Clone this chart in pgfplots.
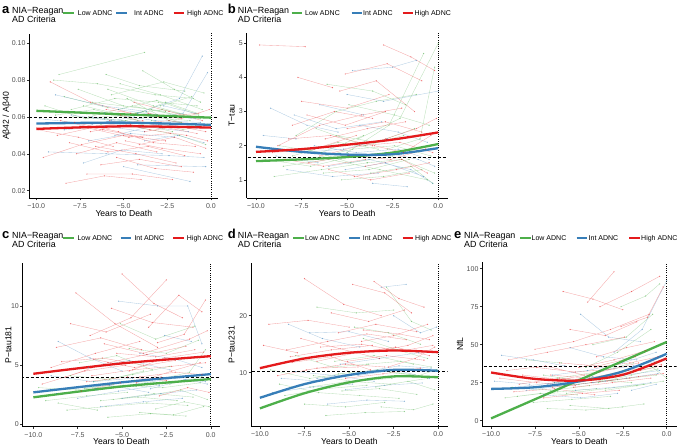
\documentclass[border=0pt]{standalone}
\usepackage{fontspec}
\setmainfont{Liberation Sans}
\usepackage{pgfplots}
\pgfplotsset{compat=1.18}
\definecolor{cgreen}{HTML}{4DAF4A}
\definecolor{cblue}{HTML}{377EB8}
\definecolor{cred}{HTML}{E41A1C}
\definecolor{tickgray}{HTML}{4D4D4D}
\pgfplotsset{
  panel/.style={
    scale only axis, anchor=south west,
    axis x line*=bottom, axis y line*=left,
    axis line style={black, line width=0.55pt, -},
    tick align=outside, major tick length=2.5pt,
    tick style={black!80, line width=0.5pt},
    xtick={-10,-7.5,-5,-2.5,0},
    xticklabels={−10.0,−7.5,−5.0,−2.5,0.0},
    ticklabel style={font=\fontsize{7}{8}\selectfont, text=tickgray},
    yticklabel style={inner sep=1.2pt},
    /pgf/number format/assume math mode=true,
    xlabel={Years to Death},
    label style={font=\fontsize{8.6}{10}\selectfont},
    xlabel style={at={(axis description cs:0.5,0)}, anchor=center, yshift=-15pt},
    unbounded coords=jump,
  },
  traj/.style={line width=0.35pt, opacity=0.38, mark=*, mark size=0.45pt},
  fit/.style={line width=2.3pt, smooth, no marks},
  thr/.style={black, line width=0.7pt, dash pattern=on 3pt off 2pt, no marks},
  zero/.style={black, line width=0.7pt, dash pattern=on 0.7pt off 1.5pt, no marks},
}
\newcommand\legblock[9]{%
  \node[anchor=base west, inner sep=0, font=\fontsize{13}{13}\bfseries] at (#2pt,{(433-#1)*1pt}) {#3};
  \node[anchor=base west, inner sep=0, font=\fontsize{8.9}{9.4}\selectfont] at ({(#2+10)*1pt},{(433.7-#1)*1pt}) {NIA−Reagan};
  \node[anchor=base west, inner sep=0, font=\fontsize{8.9}{9.4}\selectfont] at ({(#2+10)*1pt},{(424.3-#1)*1pt}) {AD Criteria};
  \draw[cgreen, line width=1.8pt] (#4pt,{(434-#1)*1pt}) -- ++(10.7pt,0pt);
  \draw[cblue, line width=1.8pt] (#6pt,{(434-#1)*1pt}) -- ++(10.7pt,0pt);
  \draw[cred, line width=1.8pt] (#8pt,{(434-#1)*1pt}) -- ++(10.7pt,0pt);
  \node[anchor=base west, inner sep=0, font=\fontsize{7}{8}\selectfont] at (#5pt,{(431.5-#1)*1pt}) {Low ADNC};
  \node[anchor=base west, inner sep=0, font=\fontsize{7}{8}\selectfont] at (#7pt,{(431.5-#1)*1pt}) {Int ADNC};
  \node[anchor=base west, inner sep=0, font=\fontsize{7}{8}\selectfont] at (#9pt,{(431.5-#1)*1pt}) {High ADNC};
}
\begin{document}
\begin{tikzpicture}
\useasboundingbox (0pt,0pt) rectangle (677pt,447pt);

% ---------------- panel a ----------------
\begin{axis}[panel, at={(29.3pt,249pt)}, width=189pt, height=164pt,
  xmin=-10.4, xmax=0.42, ymin=0.016, ymax=0.105,
  ytick={0.02,0.04,0.06,0.08,0.10}, yticklabels={0.02,0.04,0.06,0.08,0.10},
  ylabel={Aβ42 / Aβ40},
  ylabel style={at={(axis description cs:0,0.5)}, anchor=center, yshift=22.6pt}]
\addplot[traj, cgreen] coordinates {
(-8.7,0.083)(-3.8,0.095)(0,nan)
(-9.0,0.080)(-6.5,0.078)(-3.2,0.072)(-1.0,0.070)(0,nan)
(-7.6,0.075)(-5.0,0.066)(-2.6,0.063)(0,nan)
(-6.0,0.083)(-4.1,0.077)(-1.5,0.074)(0,nan)
(-8.0,0.064)(-5.5,0.070)(-3.0,0.068)(-0.8,0.066)(0,nan)
(-5.2,0.078)(-2.9,0.072)(-0.5,0.064)(0,nan)
(-7.0,0.060)(-4.5,0.066)(-2.0,0.061)(0,nan)
(-4.8,0.070)(-2.4,0.058)(-0.9,0.055)(0,nan)
(-9.5,0.066)(-7.2,0.059)(-4.3,0.062)(0,nan)
(-6.3,0.056)(-3.6,0.060)(-1.2,0.058)(0,nan)
(-3.9,0.085)(-2.1,0.075)(-0.6,0.068)(0,nan)
(-5.7,0.072)(-2.7,0.079)(-0.4,0.073)(0,nan)
(-8.4,0.071)(-5.9,0.065)(0,nan)
(-4.5,0.055)(-1.8,0.050)(-0.3,0.045)(0,nan)
(-6.8,0.068)(-3.4,0.064)(-1.4,0.060)(0,nan)
(-2.9,0.066)(-1.1,0.071)(0,nan)
(-7.9,0.060)(-4.9,0.058)(-2.2,0.052)(0,nan)
(-5.3,0.064)(-3.1,0.069)(-0.7,0.061)(0,nan)
(-7.3,0.066)(-5.1,0.061)(-2.8,0.064)(-0.6,0.059)(0,nan)
(-6.1,0.059)(-3.9,0.063)(-1.7,0.057)(0,nan)
(-8.9,0.061)(-6.7,0.064)(-4.2,0.058)(0,nan)
(-4.7,0.060)(-2.6,0.068)(-0.8,0.062)(0,nan)
(-5.9,0.075)(-3.3,0.066)(-1.0,0.060)(0,nan)
(-3.4,0.058)(-1.6,0.053)(-0.2,0.056)
};
\addplot[traj, cblue] coordinates {
(-8.9,0.072)(-6.2,0.066)(-3.7,0.063)(0,nan)
(-7.3,0.035)(-5.1,0.042)(-2.8,0.040)(0,nan)
(-9.3,0.041)(-6.0,0.040)(-2.4,0.039)(-0.4,0.038)(0,nan)
(-4.2,0.062)(-1.8,0.070)(-0.5,0.093)(0,nan)
(-6.5,0.057)(-4.0,0.055)(-1.3,0.052)(0,nan)
(-5.5,0.050)(-3.0,0.056)(-0.8,0.054)(0,nan)
(-8.0,0.061)(-5.7,0.058)(0,nan)
(-3.5,0.060)(-1.6,0.062)(-0.2,0.084)(0,nan)
(-7.0,0.047)(-4.6,0.051)(-2.1,0.049)(0,nan)
(-2.7,0.066)(-0.9,0.062)(0,nan)
(-5.0,0.033)(-1.2,0.025)(0,nan)
(-9.8,0.059)(-6.8,0.056)(-4.4,0.060)(0,nan)
(-6.1,0.062)(-3.2,0.058)(-0.6,0.057)(0,nan)
(-4.2,0.034)(-0.3,0.033)(0,nan)
(-6.8,0.060)(-4.3,0.057)(-2.0,0.055)(0,nan)
(-5.3,0.064)(-3.1,0.061)(-0.9,0.059)(0,nan)
(-8.4,0.053)(-6.1,0.055)(-3.8,0.052)(0,nan)
(-3.8,0.047)(-1.9,0.050)(-0.4,0.046)
};
\addplot[traj, cred] coordinates {
(-9.2,0.079)(-6.9,0.068)(-4.6,0.062)(0,nan)
(-8.3,0.024)(-6.1,0.028)(-4.0,0.026)(0,nan)
(-9.6,0.038)(-7.4,0.045)(-5.0,0.050)(-2.6,0.047)(0,nan)
(-7.8,0.057)(-5.3,0.052)(-3.3,0.046)(-0.9,0.044)(0,nan)
(-6.6,0.044)(-4.3,0.040)(-2.0,0.035)(0,nan)
(-5.8,0.058)(-3.5,0.053)(-1.4,0.050)(-0.2,0.047)(0,nan)
(-8.8,0.050)(-6.4,0.055)(-3.9,0.058)(0,nan)
(-4.9,0.047)(-2.8,0.043)(-0.6,0.040)(0,nan)
(-7.1,0.029)(-4.5,0.029)(-2.2,0.026)(0,nan)
(-6.0,0.064)(-3.0,0.060)(-0.7,0.062)(0,nan)
(-9.9,0.053)(-7.6,0.049)(-5.6,0.044)(0,nan)
(-3.8,0.052)(-1.9,0.055)(-0.3,0.052)(0,nan)
(-5.4,0.038)(-3.2,0.032)(-1.0,0.030)(0,nan)
(-8.1,0.046)(-5.9,0.041)(-3.6,0.044)(-1.5,0.039)(0,nan)
(-4.4,0.068)(-2.4,0.063)(-0.5,0.058)(0,nan)
(-7.5,0.055)(-4.7,0.049)(-2.3,0.051)(0,nan)
(-6.3,0.034)(-4.1,0.037)(-1.7,0.033)(0,nan)
(-6.9,0.052)(-4.6,0.056)(-2.4,0.058)(-0.4,0.055)(0,nan)
(-5.2,0.061)(-3.0,0.055)(-0.8,0.051)(0,nan)
(-8.6,0.058)(-6.2,0.053)(-3.9,0.049)(0,nan)
(-4.1,0.045)(-2.1,0.049)(-0.3,0.043)(0,nan)
(-7.7,0.040)(-5.4,0.046)(-3.1,0.041)(0,nan)
(-3.6,0.062)(-1.7,0.059)(-0.1,0.064)
};
\addplot[thr] coordinates {(-11,0.06)(1,0.06)};
\addplot[zero] coordinates {(0,0)(0,0.2)};
\addplot[fit, cgreen] coordinates {(-10,0.0633)(-5,0.0614)(0,0.0596)};
\addplot[fit, cblue] coordinates {(-10,0.0564)(-5,0.0569)(0,0.0557)};
\addplot[fit, cred] coordinates {(-10,0.0535)(-5,0.0549)(0,0.0542)};
\end{axis}

% ---------------- panel b ----------------
\begin{axis}[panel, at={(246.7pt,249pt)}, width=201pt, height=165pt,
  xmin=-10.51, xmax=0.52, ymin=0.47, ymax=5.3,
  ytick={1,2,3,4,5},
  ylabel={T−tau},
  ylabel style={at={(axis description cs:0,0.5)}, anchor=center, yshift=15pt}]
\addplot[traj, cgreen] coordinates {
(-9.0,1.1)(-6.4,1.3)(-3.9,1.5)(0,nan)
(-7.8,2.3)(-5.6,3.0)(-3.4,3.3)(-1.2,3.5)(0,nan)
(-6.1,3.8)(-3.6,3.6)(-1.8,3.2)(0,nan)
(-5.0,1.8)(-2.7,2.6)(-0.8,4.7)(0,nan)
(-8.5,1.4)(-6.0,1.6)(-3.2,1.3)(-0.6,1.0)(0,nan)
(-4.4,2.2)(-2.1,2.8)(0,5.0)(0,nan)
(-7.2,1.9)(-4.8,1.5)(-2.5,1.7)(0,nan)
(-3.7,1.2)(-1.5,1.4)(-0.3,0.9)(0,nan)
(-6.7,2.5)(-4.0,2.0)(-1.9,2.3)(0,nan)
(-9.5,1.6)(-7.0,1.4)(-4.6,1.7)(0,nan)
(-5.3,1.0)(-3.0,1.1)(-0.9,1.3)(0,nan)
(-4.9,3.2)(-2.4,2.9)(-0.5,2.6)(0,nan)
(-2.8,1.9)(-1.0,2.2)(-0.2,4.3)(0,nan)
(-8.0,1.7)(-5.5,2.1)(-3.3,1.9)(0,nan)
(-6.3,1.2)(-3.8,1.3)(-1.6,1.6)(0,nan)
(-7.0,1.6)(-4.7,1.9)(-2.4,2.0)(-0.4,1.7)(0,nan)
(-5.6,2.3)(-3.4,2.1)(-1.3,2.5)(0,nan)
(-8.7,2.0)(-6.4,1.8)(-4.1,2.3)(0,nan)
(-3.9,1.5)(-2.0,1.6)(-0.2,1.2)
};
\addplot[traj, cblue] coordinates {
(-9.2,3.1)(-7.2,2.6)(-5.5,2.4)(0,nan)
(-9.6,2.3)(-7.8,2.2)(0,nan)
(-4.7,4.2)(-2.5,4.3)(-1.2,4.5)(0,nan)
(-6.0,1.4)(-3.8,1.6)(-1.5,1.3)(-0.3,0.9)(0,nan)
(-5.0,3.5)(-3.0,3.3)(0,3.6)(0,nan)
(-7.5,1.8)(-5.2,1.9)(-2.8,2.2)(0,nan)
(-3.6,0.9)(-1.7,0.8)(0,nan)
(-8.3,1.3)(-5.8,1.1)(-3.3,1.2)(0,nan)
(-4.3,2.6)(-2.2,2.4)(-0.6,2.1)(0,nan)
(-6.5,3.2)(-4.1,2.9)(0,nan)
(-2.9,1.8)(-1.1,1.6)(-0.2,1.4)(0,nan)
(-7.9,2.9)(-5.6,2.5)(-3.1,2.7)(0,nan)
(-6.8,2.0)(-4.5,1.8)(-2.2,1.9)(-0.5,1.6)(0,nan)
(-5.1,1.3)(-2.9,1.5)(-0.8,1.1)(0,nan)
(-8.9,1.7)(-6.6,1.5)
};
\addplot[traj, cred] coordinates {
(-9.8,4.95)(-7.3,4.9)(0,nan)
(-8.8,2.0)(-6.5,2.6)(-4.2,2.9)(-2.0,3.1)(0,nan)
(-7.1,1.5)(-4.9,1.7)(-2.6,1.6)(-0.7,1.9)(0,nan)
(-3.0,4.95)(-1.5,4.6)(-0.2,4.2)(0,nan)
(-6.2,2.2)(-3.9,2.5)(-1.8,2.7)(0,nan)
(-5.4,3.6)(-3.4,3.9)(-1.3,3.0)(0,nan)
(-9.1,1.8)(-6.8,1.9)(-4.5,2.3)(0,nan)
(-4.6,1.1)(-2.3,1.3)(-0.5,1.5)(0,nan)
(-8.0,2.6)(-5.7,3.0)(-3.6,2.8)(0,nan)
(-2.9,2.2)(-1.2,2.5)(-0.1,2.8)(0,nan)
(-7.5,3.3)(-5.0,3.1)(-2.7,3.5)(0,nan)
(-6.0,1.3)(-3.7,1.0)(-1.6,1.2)(0,nan)
(-5.1,4.1)(-2.8,4.4)(-0.9,3.9)(0,nan)
(-3.5,2.0)(-1.9,1.8)(-0.4,2.3)(0,nan)
(-8.4,1.6)(-6.3,1.4)(-4.0,1.6)(0,nan)
(-7.7,4.0)(-5.8,3.7)(0,nan)
(-6.5,1.7)(-4.3,2.0)(-2.1,2.1)(-0.3,1.8)(0,nan)
(-5.0,2.5)(-2.9,2.7)(-0.9,2.4)(0,nan)
(-8.2,2.2)(-5.9,2.3)(-3.6,2.0)(0,nan)
(-4.0,1.4)(-2.0,1.6)(-0.6,1.2)(0,nan)
(-7.2,2.9)(-5.1,2.6)(-2.9,3.0)
};
\addplot[thr] coordinates {(-11,1.65)(1,1.65)};
\addplot[zero] coordinates {(0,0)(0,6)};
\addplot[fit, cgreen] coordinates {(-10,1.55)(-7.5,1.6)(-5,1.67)(-2.5,1.8)(0,2.05)};
\addplot[fit, cblue] coordinates {(-10,1.97)(-7.5,1.82)(-5,1.74)(-2.5,1.75)(0,1.93)};
\addplot[fit, cred] coordinates {(-10,1.82)(-7.5,1.9)(-5,2.03)(-2.5,2.18)(0,2.39)};
\end{axis}

% ---------------- panel c ----------------
\begin{axis}[panel, at={(22.7pt,20.3pt)}, width=197.3pt, height=163.4pt,
  xmin=-10.6, xmax=0.52, ymin=-0.2, ymax=13.6,
  ytick={0,5,10},
  ylabel={P−tau181},
  ylabel style={at={(axis description cs:0,0.5)}, anchor=center, yshift=14.4pt}]
\addplot[traj, cgreen] coordinates {
(-9.3,2.0)(-7.0,2.4)(-4.7,2.7)(0,nan)
(-5.1,8.5)(-3.1,7.2)(-0.9,8.3)(0,nan)
(-8.1,1.2)(-5.9,1.5)(-3.6,1.8)(-1.3,1.6)(0,nan)
(-6.6,3.6)(-4.4,4.2)(-2.3,4.9)(0,nan)
(-4.0,1.0)(-2.1,0.8)(-0.4,1.5)(0,nan)
(-7.4,5.2)(-5.3,5.8)(-3.3,4.6)(0,nan)
(-3.7,2.4)(-1.7,2.9)(-0.2,2.1)(0,nan)
(-9.7,3.1)(-7.6,2.9)(-5.5,3.4)(0,nan)
(-5.8,0.6)(-3.4,0.9)(-1.4,0.7)(0,nan)
(-2.9,3.8)(-1.2,4.4)(-0.3,6.3)(0,nan)
(-6.2,2.0)(-4.1,2.3)(-1.9,2.0)(0,nan)
(-7.9,4.1)(-5.7,3.8)(-3.8,4.5)(0,nan)
(-4.6,6.4)(-2.5,6.0)(-0.7,7.1)(0,nan)
(-8.6,1.8)(-6.4,1.2)(0,nan)
(-3.1,1.3)(-1.5,1.9)(-0.1,1.5)(0,nan)
(-7.1,3.0)(-4.9,3.3)(-2.7,3.1)(-0.6,3.5)(0,nan)
(-5.5,2.1)(-3.2,2.6)(-1.0,2.3)(0,nan)
(-8.8,2.5)(-6.5,3.0)(-4.2,3.2)(0,nan)
(-4.3,3.7)(-2.3,3.4)(-0.5,4.0)
};
\addplot[traj, cblue] coordinates {
(-8.6,7.0)(-6.8,5.6)(-5.0,4.5)(0,nan)
(-5.2,10.4)(-3.0,10.0)(-1.3,10.0)(-0.5,6.8)(0,nan)
(-7.5,2.2)(-5.2,2.8)(-2.9,3.3)(0,nan)
(-9.0,4.1)(-6.6,3.6)(-4.4,3.9)(0,nan)
(-4.0,6.0)(-2.0,5.5)(-0.5,4.8)(0,nan)
(-6.2,1.5)(-3.8,1.9)(-1.6,2.2)(0,nan)
(-3.4,3.0)(-1.4,3.8)(-0.2,3.4)(0,nan)
(-8.0,3.0)(-5.7,3.3)(-3.5,2.7)(0,nan)
(-2.6,7.5)(-1.1,7.0)(0,nan)
(-6.9,4.8)(-4.6,5.4)(-2.3,4.6)(0,nan)
(-6.5,3.0)(-4.2,3.4)(-2.0,3.9)(-0.3,3.6)(0,nan)
(-5.0,2.2)(-2.8,2.6)(-0.8,2.9)(0,nan)
(-8.7,2.6)(-6.4,2.9)
};
\addplot[traj, cred] coordinates {
(-9.0,4.8)(-6.5,6.0)(-4.0,7.0)(0,nan)
(-7.6,11.1)(-5.4,8.5)(-3.0,6.5)(0,nan)
(-5.0,12.7)(-3.2,10.2)(-1.6,9.0)(0,nan)
(-8.2,4.0)(-5.8,5.2)(-3.6,5.9)(-1.4,6.6)(0,nan)
(-6.8,7.5)(-4.5,9.0)(-2.5,12.2)(0,nan)
(-4.2,3.5)(-2.2,4.5)(-0.6,5.2)(0,nan)
(-9.5,3.4)(-7.1,4.5)(-4.8,5.0)(0,nan)
(-6.0,6.8)(-3.8,6.0)(-1.2,7.2)(-0.2,7.9)(0,nan)
(-3.5,8.2)(-1.8,10.9)(-0.5,9.5)(0,nan)
(-7.3,2.8)(-5.1,3.5)(-2.8,4.0)(0,nan)
(-5.6,9.8)(-3.3,8.6)(-1.0,8.2)(0,nan)
(-8.7,6.5)(-6.2,7.3)(-3.9,6.3)(0,nan)
(-4.6,4.5)(-2.6,5.6)(-0.4,6.1)(0,nan)
(-2.9,2.4)(-1.3,3.1)(-0.1,2.7)(0,nan)
(-6.6,5.5)(-4.3,4.8)(-2.0,5.4)(0,nan)
(-7.9,8.5)(-5.9,7.8)(-3.4,9.3)(0,nan)
(-3.0,6.9)(-1.5,7.6)(-0.3,10.5)(0,nan)
(-6.7,4.1)(-4.4,4.6)(-2.2,4.9)(-0.3,5.2)(0,nan)
(-5.3,6.0)(-3.1,5.7)(-0.9,6.3)(0,nan)
(-8.4,5.3)(-6.1,5.6)(-3.8,5.0)(0,nan)
(-4.0,4.0)(-2.0,4.4)(-0.5,4.2)(0,nan)
(-7.0,3.6)(-4.7,4.0)(-2.5,3.7)
};
\addplot[thr] coordinates {(-11,3.93)(1,3.93)};
\addplot[zero] coordinates {(0,-1)(0,15)};
\addplot[fit, cgreen] coordinates {(-10,2.28)(-5,3.2)(0,3.82)};
\addplot[fit, cblue] coordinates {(-10,2.7)(-5,3.55)(0,4.24)};
\addplot[fit, cred] coordinates {(-10,4.27)(-5,5.15)(0,5.76)};
\end{axis}

% ---------------- panel d ----------------
\begin{axis}[panel, at={(251pt,21pt)}, width=196.7pt, height=162.7pt,
  xmin=-10.5, xmax=0.53, ymin=0.65, ymax=29.2,
  ytick={10,20},
  ylabel={P−tau231},
  ylabel style={at={(axis description cs:0,0.5)}, anchor=center, yshift=19.3pt}]
\addplot[traj, cgreen] coordinates {
(-6.8,21.5)(-4.6,20.5)(-2.5,21.0)(0,nan)
(-2.9,25.0)(-1.5,19.0)(-0.4,17.5)(0,nan)
(-8.9,8.0)(-6.7,6.5)(-4.4,6.0)(-2.2,5.5)(0,nan)
(-7.5,4.5)(-5.2,4.0)(-3.0,4.8)(0,nan)
(-5.8,12.0)(-3.6,13.0)(-1.4,11.5)(0,nan)
(-4.2,16.0)(-2.3,14.0)(-0.6,12.5)(0,nan)
(-9.4,10.5)(-7.2,9.0)(-5.0,10.0)(0,nan)
(-3.5,7.5)(-1.7,8.5)(-0.2,7.0)(0,nan)
(-6.3,2.5)(-4.1,3.0)(-1.9,3.2)(0,nan)
(-8.0,13.0)(-5.9,11.0)(-3.9,11.5)(0,nan)
(-2.7,10.0)(-1.1,9.5)(-0.1,10.5)(0,nan)
(-5.4,6.8)(-3.3,7.2)(-1.2,6.2)(0,nan)
(-7.0,9.5)(-4.8,8.5)(-2.6,9.0)(0,nan)
(-4.7,18.0)(-2.8,17.0)(-1.0,15.0)(0,nan)
(-3.2,4.0)(-1.4,3.5)(-0.3,4.5)(0,nan)
(-7.2,7.5)(-5.0,8.5)(-2.7,8.0)(-0.6,9.0)(0,nan)
(-5.6,9.8)(-3.4,10.5)(-1.3,9.6)(0,nan)
(-8.6,6.0)(-6.3,7.2)(-4.0,7.8)(0,nan)
(-4.0,11.5)(-2.1,12.0)(-0.4,11.0)
};
\addplot[traj, cblue] coordinates {
(-8.4,18.5)(-6.5,16.0)(-4.4,14.5)(0,nan)
(-3.2,25.0)(-1.8,25.5)(0,nan)
(-7.2,17.0)(-5.0,17.2)(-2.8,15.5)(0,nan)
(-9.3,6.5)(-7.0,7.5)(-4.8,8.0)(0,nan)
(-5.5,11.5)(-3.3,12.5)(-1.1,13.5)(0,nan)
(-6.2,4.5)(-4.0,5.2)(-1.9,5.0)(0,nan)
(-4.5,9.5)(-2.4,10.5)(-0.5,9.0)(0,nan)
(-2.5,20.0)(-1.0,17.0)(-0.1,18.0)(0,nan)
(-8.0,10.2)(-5.8,9.5)(-3.6,8.5)(0,nan)
(-6.8,9.0)(-4.5,10.0)(-2.2,11.2)(-0.4,10.8)(0,nan)
(-5.2,7.0)(-3.0,7.8)(-0.9,8.2)(0,nan)
(-8.8,9.0)(-6.5,8.5)
};
\addplot[traj, cred] coordinates {
(-7.5,26.5)(-5.3,22.0)(-3.2,20.0)(0,nan)
(-9.5,18.5)(-7.3,19.2)(-5.0,18.0)(0,nan)
(-8.5,14.0)(-6.2,15.5)(-4.0,16.8)(-1.8,15.8)(0,nan)
(-4.8,25.5)(-3.0,24.0)(-1.5,20.5)(0,nan)
(-6.8,12.0)(-4.6,13.5)(-2.4,14.5)(-0.5,13.0)(0,nan)
(-9.0,9.5)(-6.8,10.8)(-4.5,11.0)(0,nan)
(-5.6,17.0)(-3.5,18.5)(-1.2,17.2)(0,nan)
(-3.6,26.0)(-2.2,23.0)(-0.8,21.5)(0,nan)
(-7.7,16.0)(-5.5,14.2)(-3.3,12.5)(0,nan)
(-2.8,11.0)(-1.3,12.5)(-0.2,14.5)(0,nan)
(-6.0,20.5)(-3.9,19.0)(-1.9,21.0)(0,nan)
(-8.2,11.8)(-6.0,12.8)(-3.8,10.5)(0,nan)
(-4.3,15.5)(-2.5,16.5)(-0.6,18.5)(0,nan)
(-5.2,9.0)(-3.1,9.8)(-1.0,10.8)(0,nan)
(-9.8,14.8)(-7.9,13.5)(0,nan)
(-3.3,13.8)(-1.7,14.8)(-0.3,16.5)(0,nan)
(-6.6,14.5)(-4.3,15.0)(-2.1,13.8)(-0.3,14.8)(0,nan)
(-5.1,12.0)(-2.9,13.0)(-0.8,12.2)(0,nan)
(-8.3,12.8)(-6.0,14.0)(-3.7,14.8)(0,nan)
(-4.2,17.5)(-2.2,16.8)(-0.5,15.8)(0,nan)
(-7.4,10.5)(-5.2,11.5)(-3.0,11.0)
};
\addplot[thr] coordinates {(-11,10.3)(1,10.3)};
\addplot[zero] coordinates {(0,0)(0,30)};
\addplot[fit, cgreen] coordinates {(-10,3.74)(-7.5,6.4)(-5,8.3)(-2.5,9.35)(0,9.2)};
\addplot[fit, cblue] coordinates {(-10,5.6)(-7.5,8.0)(-5,9.6)(-2.5,10.5)(0,10.35)};
\addplot[fit, cred] coordinates {(-10,10.8)(-7.5,12.5)(-5,13.5)(-2.5,13.9)(0,13.6)};
\end{axis}

% ---------------- panel e ----------------
\begin{axis}[panel, at={(482.3pt,21pt)}, width=194.4pt, height=163.7pt,
  xmin=-10.5, xmax=0.57, ymin=-3.5, ymax=104.2,
  ytick={0,25,50,75,100},
  ylabel={NfL},
  ylabel style={at={(axis description cs:0,0.5)}, anchor=center, yshift=22.3pt}]
\addplot[traj, cgreen] coordinates {
(-7.6,12)(-5.4,14)(-3.2,16)(0,nan)
(-4.6,35)(-2.8,45)(-0.9,60)(0,nan)
(-2.6,75)(-1.2,82)(-0.4,90)(0,nan)
(-8.8,22)(-6.6,20)(-4.4,23)(0,nan)
(-6.2,28)(-4.0,32)(-1.9,38)(0,nan)
(-3.5,20)(-1.7,23)(-0.2,26)(0,nan)
(-9.2,15)(-7.2,18)(-5.1,17)(0,nan)
(-5.5,10)(-3.3,8)(-1.3,11)(0,nan)
(-7.0,30)(-5.0,26)(-2.9,29)(0,nan)
(-4.2,50)(-2.3,55)(-0.8,70)(0,nan)
(-2.0,32)(-0.8,35)(0,28)(0,nan)
(-8.0,40)(-6.0,38)(0,nan)
(-3.9,25)(-2.0,30)(-0.5,34)(0,nan)
(-6.8,8)(-4.6,7)(-2.5,9)(0,nan)
(-7.2,22)(-5.0,24)(-2.8,27)(-0.6,30)(0,nan)
(-5.7,18)(-3.5,21)(-1.3,24)(0,nan)
(-8.5,16)(-6.2,19)(-4.0,21)(0,nan)
(-4.3,28)(-2.4,33)(-0.6,38)(0,nan)
(-6.4,25)(-4.2,27)(-2.0,25)
};
\addplot[traj, cblue] coordinates {
(-9.4,43)(-7.6,40)(-5.8,36)(0,nan)
(-4.9,70)(-3.3,55)(-1.5,52)(0,nan)
(-6.5,30)(-4.5,33)(-2.5,38)(-0.6,45)(0,nan)
(-8.0,20)(-5.8,23)(-3.5,26)(0,nan)
(-3.0,45)(-1.4,60)(0,92)(0,nan)
(-7.0,17)(-4.9,15)(-2.8,18)(0,nan)
(-4.2,25)(-2.3,28)(-0.5,31)(0,nan)
(-9.8,26)(-7.8,24)(0,nan)
(-5.5,48)(-3.6,42)(-1.7,40)(0,nan)
(-2.0,20)(-0.6,24)(0,nan)
(-6.8,24)(-4.6,27)(-2.4,30)(-0.4,33)(0,nan)
(-5.2,20)(-3.0,22)(-0.9,25)(0,nan)
(-8.6,22)(-6.4,25)(-4.2,29)(0,nan)
(-3.8,33)(-1.9,36)(-0.2,40)
};
\addplot[traj, cred] coordinates {
(-5.9,85)(-4.2,80)(-2.5,73)(0,nan)
(-4.5,78)(-3.0,98)(0,nan)
(-9.0,40)(-6.8,45)(-4.6,50)(-2.4,55)(0,nan)
(-7.5,47)(-5.3,52)(-3.2,60)(-1.0,70)(0,nan)
(-3.8,75)(-2.0,85)(-0.4,95)(0,nan)
(-8.2,30)(-6.0,27)(-3.8,32)(-1.6,38)(0,nan)
(-6.5,22)(-4.3,25)(-2.1,28)(0,nan)
(-9.5,28)(-7.4,25)(-5.2,23)(0,nan)
(-5.0,35)(-3.0,40)(-1.2,46)(0,nan)
(-2.6,62)(-1.1,68)(-0.2,88)(0,nan)
(-7.0,15)(-4.8,18)(-2.7,20)(0,nan)
(-4.0,42)(-2.3,48)(-0.7,52)(0,nan)
(-8.7,19)(-6.4,21)(-4.1,17)(0,nan)
(-3.1,30)(-1.5,33)(-0.3,36)(0,nan)
(-6.1,38)(-3.9,36)(-1.8,42)(0,nan)
(-5.5,60)(-3.5,56)(-1.7,65)(0,nan)
(-6.6,30)(-4.4,28)(-2.2,33)(-0.3,37)(0,nan)
(-5.3,22)(-3.1,25)(-0.9,28)(0,nan)
(-8.4,24)(-6.1,28)(-3.8,26)(0,nan)
(-4.1,35)(-2.1,38)(-0.5,42)(0,nan)
(-7.4,35)(-5.2,32)(-3.0,34)(0,nan)
(-3.4,26)(-1.6,29)(-0.2,31)(0,nan)
(-9.1,33)(-6.9,36)(-4.7,30)
};
\addplot[thr] coordinates {(-11,36)(1,36)};
\addplot[zero] coordinates {(0,-10)(0,110)};
\addplot[fit, cgreen] coordinates {(-10,1.5)(0,51.8)};
\addplot[fit, cblue] coordinates {(-10,20.9)(-7.5,22)(-5,25.8)(-2.5,32.4)(0,44)};
\addplot[fit, cred] coordinates {(-10,31.7)(-7.5,27.5)(-5,26.4)(-2.5,30.2)(0,41)};
\end{axis}

% ---------------- legends ----------------
\legblock{0}{2}{a}{63.3}{77.7}{116}{134}{173.5}{187}
\legblock{0}{227.7}{b}{291.7}{305}{351.7}{363}{402.7}{414.5}
\legblock{225}{2}{c}{63.3}{77.3}{120.7}{134.3}{173.3}{186.7}
\legblock{225}{227.7}{d}{293.3}{305}{349.3}{362.7}{402.7}{415}
\legblock{225}{454}{e}{520}{531.5}{576.7}{588.5}{629.3}{641}
\end{tikzpicture}
\end{document}
